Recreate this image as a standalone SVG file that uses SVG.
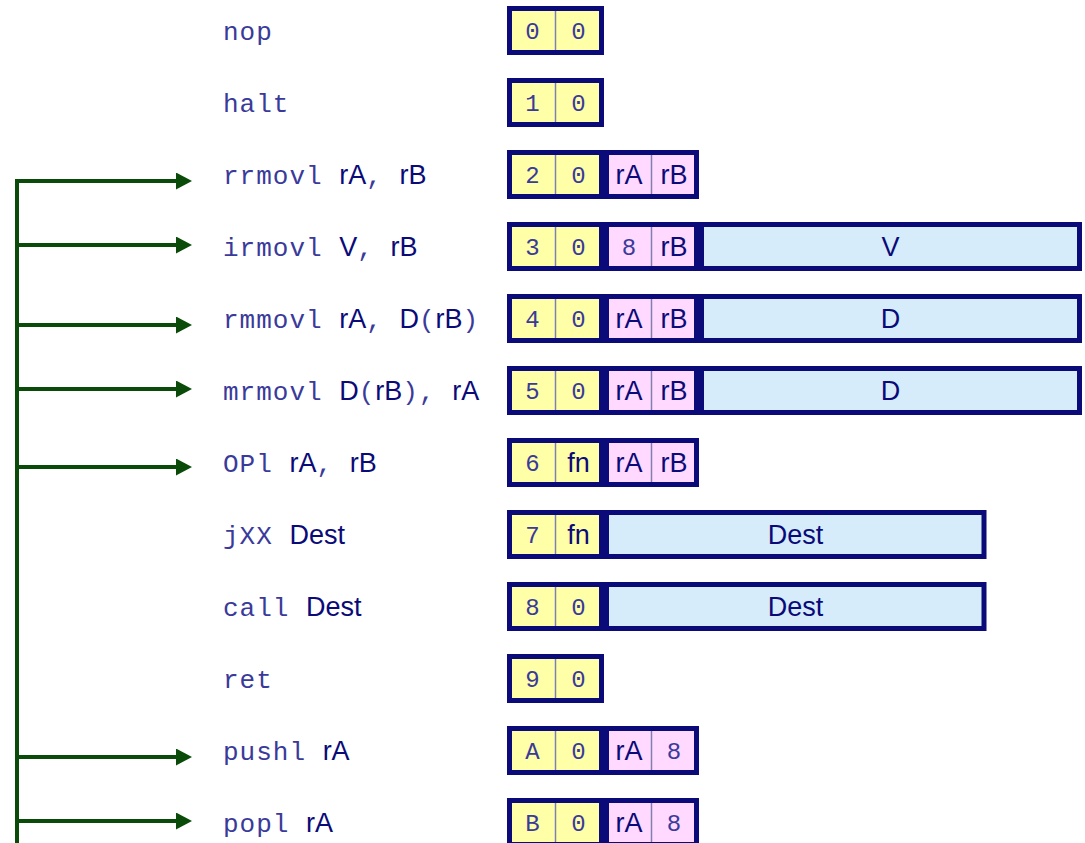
<svg xmlns="http://www.w3.org/2000/svg" width="1085" height="843" viewBox="0 0 1085 843">
<style>
.m{font-family:"Liberation Mono","Courier New",monospace;font-size:26px;letter-spacing:1px;fill:#3a3a9a}
.s{font-family:"Liberation Sans",Arial,sans-serif;font-size:27px;letter-spacing:0;fill:#0a0a78}
.bm{font-family:"Liberation Mono","Courier New",monospace;font-size:24px;fill:#3a3a9a;text-anchor:middle}
.bs{font-family:"Liberation Sans",Arial,sans-serif;font-size:27px;fill:#0a0a78;text-anchor:middle}
.y{fill:#ffffa8;stroke:#0a0a78;stroke-width:5}
.p{fill:#ffd9ff;stroke:#0a0a78;stroke-width:5}
.b{fill:#d6ecfb;stroke:#0a0a78;stroke-width:5}
.d{stroke:#8080b0;stroke-width:1.5}
.c{fill:none;stroke:#0a4b0a;stroke-width:4}
</style>
<defs>
<marker id="ah" markerUnits="userSpaceOnUse" markerWidth="17" markerHeight="18" refX="0" refY="8.5" orient="auto">
<path d="M0,0 L16,8.5 L0,17 Z" fill="#0a4b0a"/>
</marker>
</defs>
<g id="connectors">
<path class="c" d="M17,843 V179"/>
<path class="c" d="M15,181 H176" marker-end="url(#ah)"/>
<path class="c" d="M15,245 H176" marker-end="url(#ah)"/>
<path class="c" d="M15,325 H176" marker-end="url(#ah)"/>
<path class="c" d="M15,389 H176" marker-end="url(#ah)"/>
<path class="c" d="M15,467 H176" marker-end="url(#ah)"/>
<path class="c" d="M15,757 H176" marker-end="url(#ah)"/>
<path class="c" d="M15,821 H176" marker-end="url(#ah)"/>
</g>
<g id="nop">
<text x="223" y="40" class="m">nop</text>
<rect class="y" x="509.5" y="8.5" width="92" height="44"/><line class="d" x1="555.5" y1="11" x2="555.5" y2="50"/>
<text class="bm" x="532.5" y="39">0</text><text class="bm" x="578.5" y="39">0</text>
</g>
<g id="halt">
<text x="223" y="112" class="m">halt</text>
<rect class="y" x="509.5" y="80.5" width="92" height="44"/><line class="d" x1="555.5" y1="83" x2="555.5" y2="122"/>
<text class="bm" x="532.5" y="111">1</text><text class="bm" x="578.5" y="111">0</text>
</g>
<g id="rrmovl">
<text x="223" y="184"><tspan class="m">rrmovl </tspan><tspan class="s">rA</tspan><tspan class="m">, </tspan><tspan class="s">rB</tspan></text>
<rect class="y" x="509.5" y="152.5" width="92" height="44"/><line class="d" x1="555.5" y1="155" x2="555.5" y2="194"/>
<text class="bm" x="532.5" y="183">2</text><text class="bm" x="578.5" y="183">0</text>
<rect class="p" x="606.5" y="152.5" width="90" height="44"/><line class="d" x1="651.5" y1="155" x2="651.5" y2="194"/>
<text class="bs" x="629" y="184">rA</text><text class="bs" x="674" y="184">rB</text>
</g>
<g id="irmovl">
<text x="223" y="256"><tspan class="m">irmovl </tspan><tspan class="s">V</tspan><tspan class="m">, </tspan><tspan class="s">rB</tspan></text>
<rect class="y" x="509.5" y="224.5" width="92" height="44"/><line class="d" x1="555.5" y1="227" x2="555.5" y2="266"/>
<text class="bm" x="532.5" y="255">3</text><text class="bm" x="578.5" y="255">0</text>
<rect class="p" x="606.5" y="224.5" width="90" height="44"/><line class="d" x1="651.5" y1="227" x2="651.5" y2="266"/>
<text class="bm" x="629" y="255">8</text><text class="bs" x="674" y="256">rB</text>
<rect class="b" x="701.5" y="224.5" width="378" height="44"/>
<text class="bs" x="890.5" y="256">V</text>
</g>
<g id="rmmovl">
<text x="223" y="328"><tspan class="m">rmmovl </tspan><tspan class="s">rA</tspan><tspan class="m">, </tspan><tspan class="s">D</tspan><tspan class="m">(</tspan><tspan class="s">rB</tspan><tspan class="m">)</tspan></text>
<rect class="y" x="509.5" y="296.5" width="92" height="44"/><line class="d" x1="555.5" y1="299" x2="555.5" y2="338"/>
<text class="bm" x="532.5" y="327">4</text><text class="bm" x="578.5" y="327">0</text>
<rect class="p" x="606.5" y="296.5" width="90" height="44"/><line class="d" x1="651.5" y1="299" x2="651.5" y2="338"/>
<text class="bs" x="629" y="328">rA</text><text class="bs" x="674" y="328">rB</text>
<rect class="b" x="701.5" y="296.5" width="378" height="44"/>
<text class="bs" x="890.5" y="328">D</text>
</g>
<g id="mrmovl">
<text x="223" y="400"><tspan class="m">mrmovl </tspan><tspan class="s">D</tspan><tspan class="m">(</tspan><tspan class="s">rB</tspan><tspan class="m">), </tspan><tspan class="s">rA</tspan></text>
<rect class="y" x="509.5" y="368.5" width="92" height="44"/><line class="d" x1="555.5" y1="371" x2="555.5" y2="410"/>
<text class="bm" x="532.5" y="399">5</text><text class="bm" x="578.5" y="399">0</text>
<rect class="p" x="606.5" y="368.5" width="90" height="44"/><line class="d" x1="651.5" y1="371" x2="651.5" y2="410"/>
<text class="bs" x="629" y="400">rA</text><text class="bs" x="674" y="400">rB</text>
<rect class="b" x="701.5" y="368.5" width="378" height="44"/>
<text class="bs" x="890.5" y="400">D</text>
</g>
<g id="OPl">
<text x="223" y="472"><tspan class="m">OPl </tspan><tspan class="s">rA</tspan><tspan class="m">, </tspan><tspan class="s">rB</tspan></text>
<rect class="y" x="509.5" y="440.5" width="92" height="44"/><line class="d" x1="555.5" y1="443" x2="555.5" y2="482"/>
<text class="bm" x="532.5" y="471">6</text><text class="bs" x="578.5" y="472">fn</text>
<rect class="p" x="606.5" y="440.5" width="90" height="44"/><line class="d" x1="651.5" y1="443" x2="651.5" y2="482"/>
<text class="bs" x="629" y="472">rA</text><text class="bs" x="674" y="472">rB</text>
</g>
<g id="jXX">
<text x="223" y="544"><tspan class="m">jXX </tspan><tspan class="s">Dest</tspan></text>
<rect class="y" x="509.5" y="512.5" width="92" height="44"/><line class="d" x1="555.5" y1="515" x2="555.5" y2="554"/>
<text class="bm" x="532.5" y="543">7</text><text class="bs" x="578.5" y="544">fn</text>
<rect class="b" x="606.5" y="512.5" width="377.5" height="44"/>
<text class="bs" x="795.5" y="544">Dest</text>
</g>
<g id="call">
<text x="223" y="616"><tspan class="m">call </tspan><tspan class="s">Dest</tspan></text>
<rect class="y" x="509.5" y="584.5" width="92" height="44"/><line class="d" x1="555.5" y1="587" x2="555.5" y2="626"/>
<text class="bm" x="532.5" y="615">8</text><text class="bm" x="578.5" y="615">0</text>
<rect class="b" x="606.5" y="584.5" width="377.5" height="44"/>
<text class="bs" x="795.5" y="616">Dest</text>
</g>
<g id="ret">
<text x="223" y="688" class="m">ret</text>
<rect class="y" x="509.5" y="656.5" width="92" height="44"/><line class="d" x1="555.5" y1="659" x2="555.5" y2="698"/>
<text class="bm" x="532.5" y="687">9</text><text class="bm" x="578.5" y="687">0</text>
</g>
<g id="pushl">
<text x="223" y="760"><tspan class="m">pushl </tspan><tspan class="s">rA</tspan></text>
<rect class="y" x="509.5" y="728.5" width="92" height="44"/><line class="d" x1="555.5" y1="731" x2="555.5" y2="770"/>
<text class="bm" x="532.5" y="759">A</text><text class="bm" x="578.5" y="759">0</text>
<rect class="p" x="606.5" y="728.5" width="90" height="44"/><line class="d" x1="651.5" y1="731" x2="651.5" y2="770"/>
<text class="bs" x="629" y="760">rA</text><text class="bm" x="674" y="759">8</text>
</g>
<g id="popl">
<text x="223" y="832"><tspan class="m">popl </tspan><tspan class="s">rA</tspan></text>
<rect class="y" x="509.5" y="800.5" width="92" height="44"/><line class="d" x1="555.5" y1="803" x2="555.5" y2="842"/>
<text class="bm" x="532.5" y="831">B</text><text class="bm" x="578.5" y="831">0</text>
<rect class="p" x="606.5" y="800.5" width="90" height="44"/><line class="d" x1="651.5" y1="803" x2="651.5" y2="842"/>
<text class="bs" x="629" y="832">rA</text><text class="bm" x="674" y="831">8</text>
</g>
</svg>
